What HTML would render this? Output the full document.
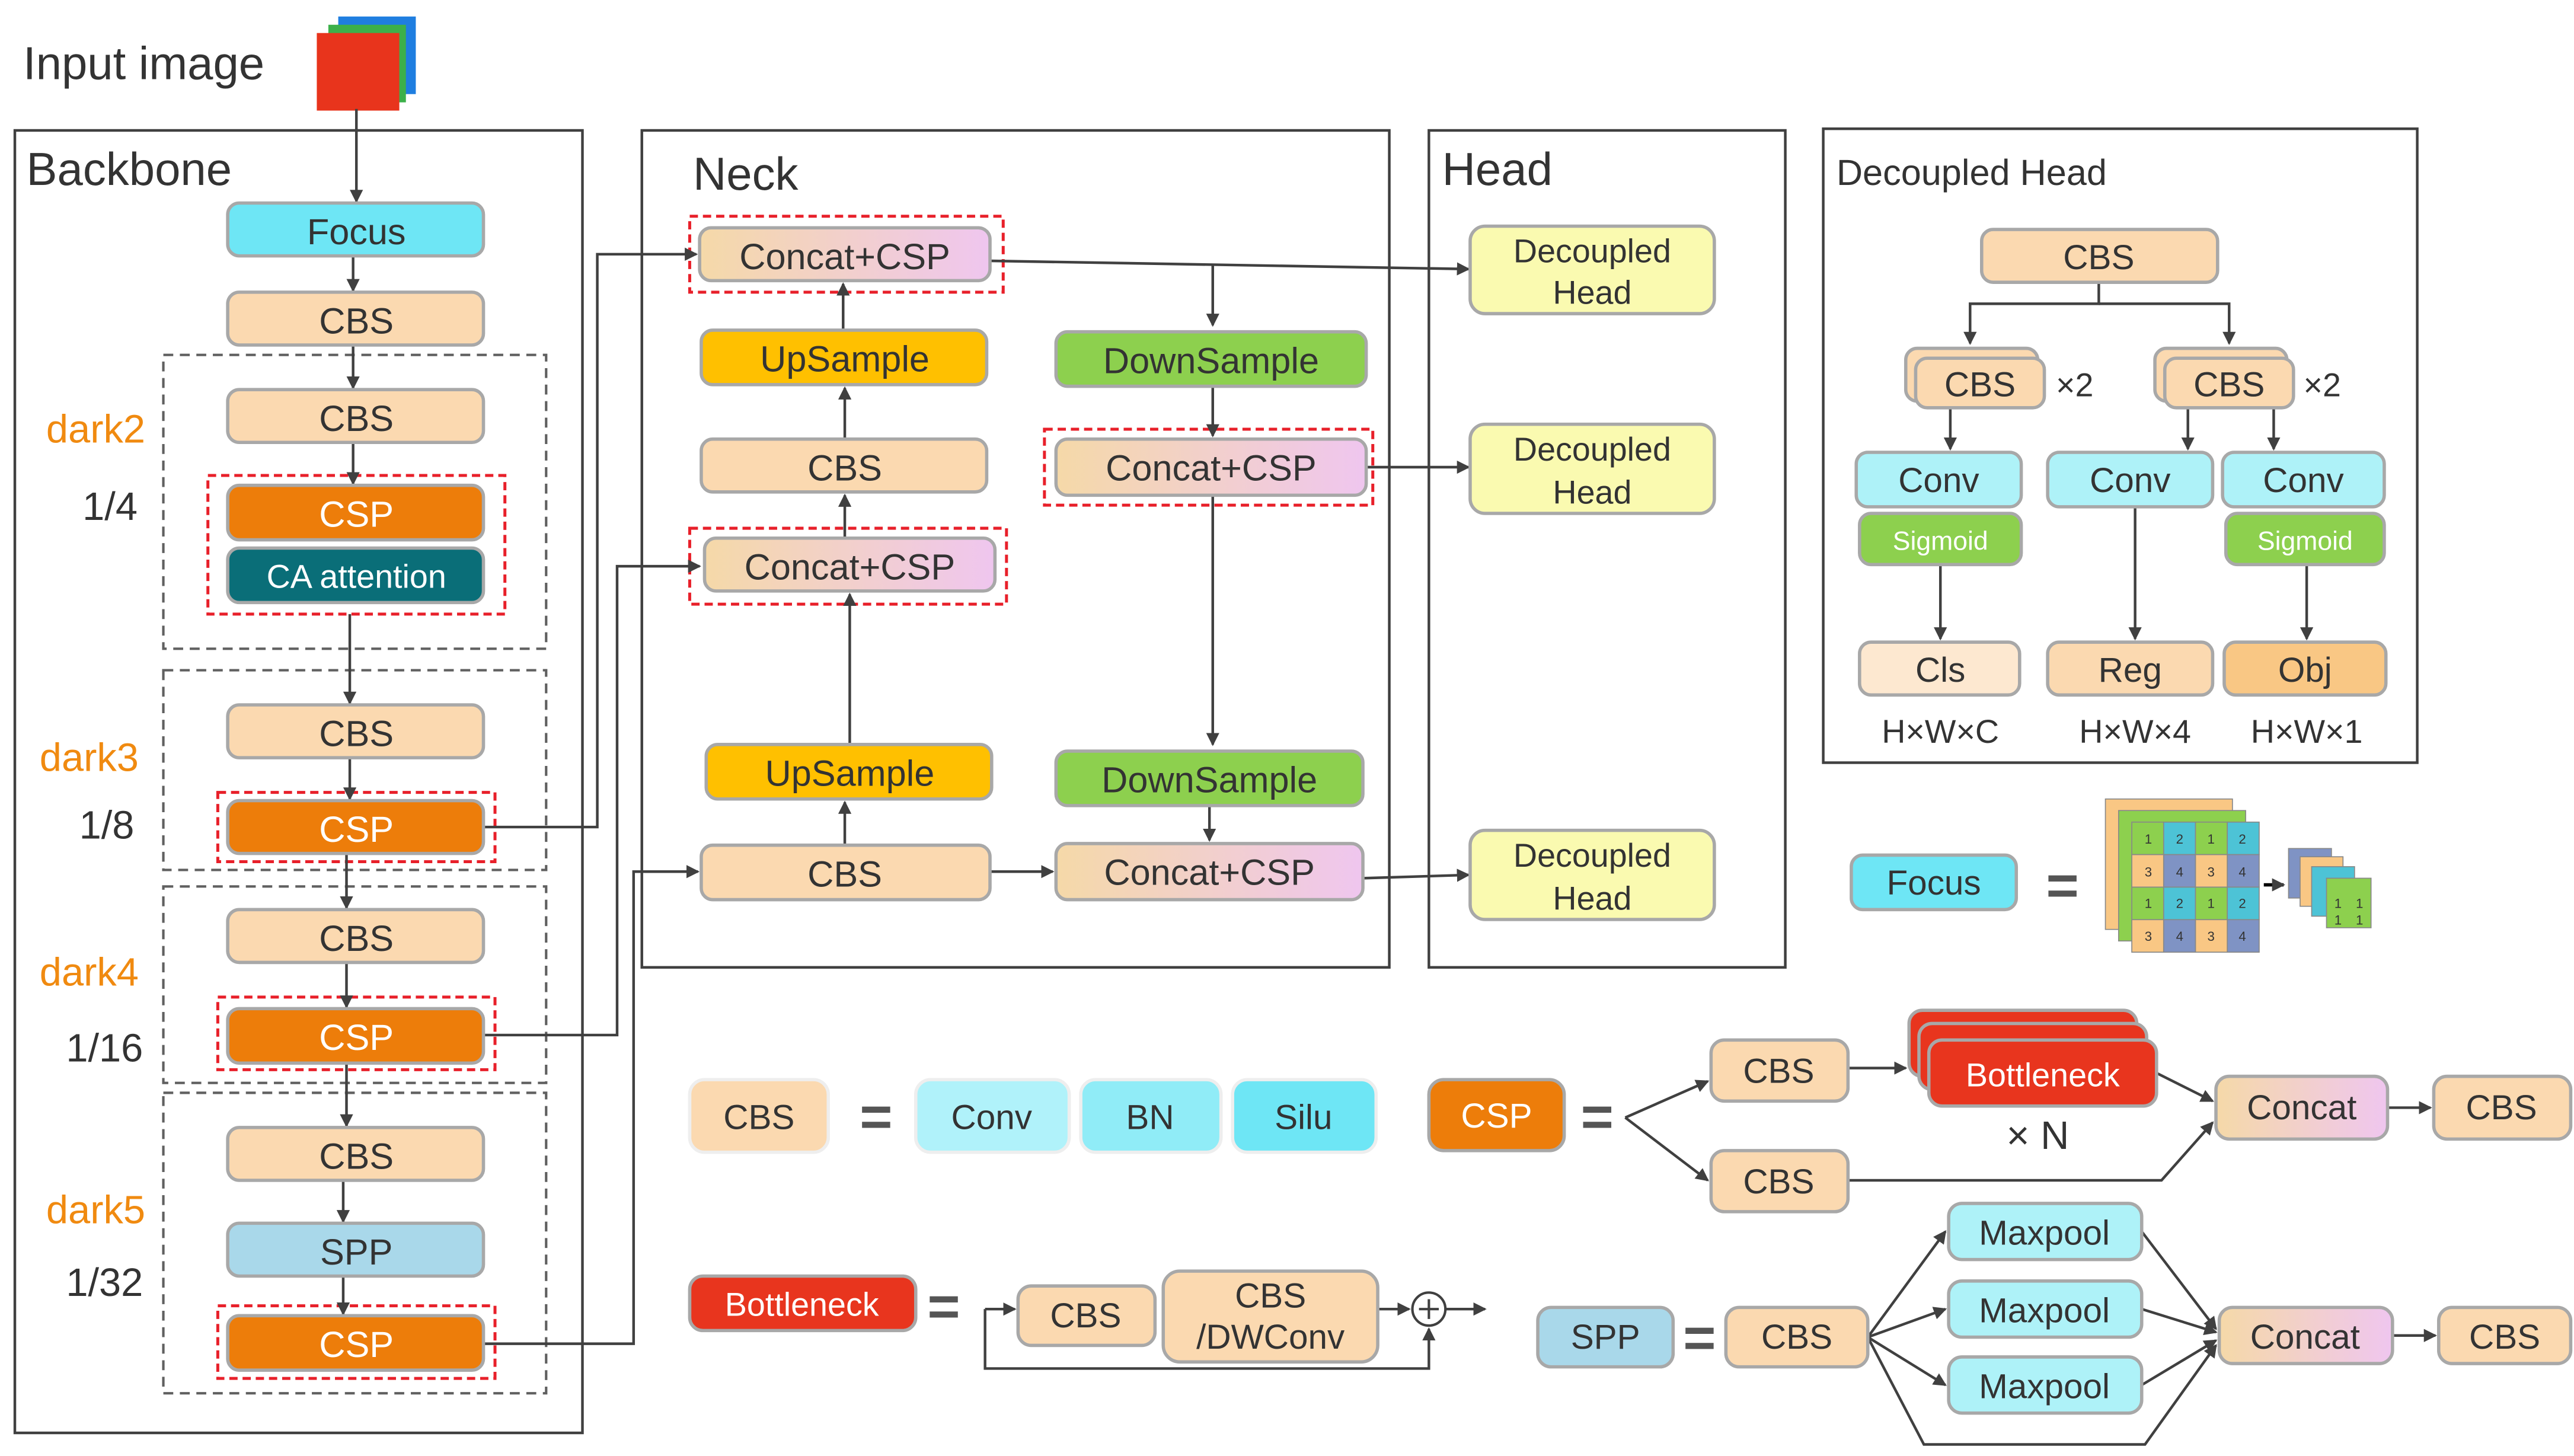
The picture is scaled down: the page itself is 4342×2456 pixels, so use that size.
<!DOCTYPE html>
<html><head><meta charset="utf-8"><style>
html,body{margin:0;padding:0;background:#fff}
svg{display:block}
text{font-family:"Liberation Sans","DejaVu Sans",sans-serif;fill:#333;stroke:none}
</style></head><body>
<svg width="4342" height="2456" viewBox="0 0 1560 882" preserveAspectRatio="none" xmlns="http://www.w3.org/2000/svg">
<defs>
<marker id="a" markerWidth="8" markerHeight="8" refX="7" refY="4" orient="auto" markerUnits="userSpaceOnUse"><path d="M0,0 L8,4 L0,8 z" fill="#404040"/></marker>
<linearGradient id="g" x1="0" x2="1"><stop offset="0" stop-color="#f5d9a8"/><stop offset="1" stop-color="#efc6ef"/></linearGradient>
</defs>
<rect width="1560" height="882" fill="#fff"/>
<g stroke="#404040" stroke-width="1.6" fill="none">
<rect x="9" y="79" width="344" height="789"/>
<rect x="389" y="79" width="453" height="507"/>
<rect x="866" y="79" width="216" height="507"/>
<rect x="1105" y="78" width="360" height="384"/>
</g>
<g stroke="#606060" stroke-width="1.5" fill="none" stroke-dasharray="6,4">
<rect x="99" y="215" width="232" height="178"/>
<rect x="99" y="406" width="232" height="121"/>
<rect x="99" y="537" width="232" height="119"/>
<rect x="99" y="662" width="232" height="182"/>
</g>
<g stroke="#e8202a" stroke-width="1.8" fill="none" stroke-dasharray="5,3">
<rect x="126" y="288" width="180" height="84"/>
<rect x="132" y="480" width="168" height="42"/>
<rect x="132" y="604" width="168" height="44"/>
<rect x="132" y="791" width="168" height="44"/>
<rect x="418" y="131" width="190" height="46"/>
<rect x="418" y="320" width="192" height="46"/>
<rect x="633" y="260" width="199" height="46"/>
</g>
<text x="14" y="48" font-size="28">Input image</text>
<rect x="205" y="10" width="47" height="47" fill="#1f7ee0"/>
<rect x="199" y="15" width="47" height="47" fill="#3cb04a"/>
<rect x="192" y="20" width="50" height="47" fill="#e8341c"/>
<text x="16" y="112" font-size="28">Backbone</text>
<text x="420" y="115" font-size="28">Neck</text>
<text x="874" y="112" font-size="28">Head</text>
<text x="1113" y="112" font-size="22">Decoupled Head</text>
<g font-size="24">
<text x="28" y="268" style="fill:#f08a10">dark2</text>
<text x="24" y="467" style="fill:#f08a10">dark3</text>
<text x="24" y="597" style="fill:#f08a10">dark4</text>
<text x="28" y="741" style="fill:#f08a10">dark5</text>
</g>
<g font-size="24"><text x="50" y="315">1/4</text><text x="48" y="508">1/8</text><text x="40" y="643">1/16</text><text x="40" y="785">1/32</text></g>

<g stroke="#404040" stroke-width="1.6" fill="none" marker-end="url(#a)">
<path d="M216 66V122"/><path d="M214 155V176"/><path d="M214 209V235"/><path d="M214 268V293"/>
<path d="M212 372V426"/><path d="M212 459V484"/><path d="M210 517V550"/><path d="M210 583V610"/>
<path d="M210 644V682"/><path d="M208 715V740"/><path d="M208 773V796"/>
<path d="M293 501H362V154H422"/><path d="M293 627H374V343H424"/><path d="M293 814H384V528H423"/>
<path d="M512 512V486"/><path d="M515 451V360"/><path d="M512 326V300"/><path d="M512 266V235"/><path d="M511 200V172"/>
<path d="M600 158L890 163"/><path d="M735 160V197"/><path d="M735 234V264"/><path d="M828 283H890"/>
<path d="M735 300V451"/><path d="M733 488V509"/><path d="M600 528H638"/><path d="M826 532L890 530"/>
<path d="M1272 171V184H1194V208"/><path d="M1272 184H1351V208"/>
<path d="M1182 247V272"/><path d="M1326 247V272"/><path d="M1378 247V272"/>
<path d="M1176 342V387"/><path d="M1294 307V387"/><path d="M1398 342V387"/>
<path d="M985 677L1035 655"/><path d="M985 677L1035 715"/><path d="M1120 647H1155"/>
<path d="M1307 650L1341 667"/><path d="M1120 715H1310L1341 680"/><path d="M1447 671H1473"/>
<path d="M597 793H615"/><path d="M835 793H854"/><path d="M876 793H900"/><path d="M597 793V829H866V805"/>
<path d="M1132 810L1179 746"/><path d="M1132 810L1179 793"/><path d="M1132 810L1179 839"/>
<path d="M1298 746L1343 805"/><path d="M1298 793L1343 807"/><path d="M1298 839L1343 812"/>
<path d="M1450 809H1476"/>
<path d="M1132 810L1166 875H1300L1343 815"/>
</g>
<circle cx="866" cy="793" r="10" fill="#fff" stroke="#404040" stroke-width="1.5"/>
<path d="M860 793H872M866 787V799" stroke="#404040" stroke-width="1.5"/>

<g stroke="#a8a8a8" stroke-width="2" font-size="22">
<g text-anchor="middle">
<rect x="138" y="123" width="155" height="32" rx="7" fill="#6ee6f5"/><text x="216" y="148">Focus</text>
<rect x="138" y="177" width="155" height="32" rx="7" fill="#fbd9b0"/><text x="216" y="202">CBS</text>
<rect x="138" y="236" width="155" height="32" rx="7" fill="#fbd9b0"/><text x="216" y="261">CBS</text>
<rect x="138" y="294" width="155" height="33" rx="7" fill="#ed7d0a"/><text x="216" y="319" style="fill:#fff">CSP</text>
<rect x="138" y="332" width="155" height="33" rx="7" fill="#0a6e78"/><text x="216" y="356" font-size="20" style="fill:#fff">CA attention</text>
<rect x="138" y="427" width="155" height="32" rx="7" fill="#fbd9b0"/><text x="216" y="452">CBS</text>
<rect x="138" y="485" width="155" height="32" rx="7" fill="#ed7d0a"/><text x="216" y="510" style="fill:#fff">CSP</text>
<rect x="138" y="551" width="155" height="32" rx="7" fill="#fbd9b0"/><text x="216" y="576">CBS</text>
<rect x="138" y="611" width="155" height="33" rx="7" fill="#ed7d0a"/><text x="216" y="636" style="fill:#fff">CSP</text>
<rect x="138" y="683" width="155" height="32" rx="7" fill="#fbd9b0"/><text x="216" y="708">CBS</text>
<rect x="138" y="741" width="155" height="32" rx="7" fill="#a9d8ea"/><text x="216" y="766">SPP</text>
<rect x="138" y="797" width="155" height="33" rx="7" fill="#ed7d0a"/><text x="216" y="822" style="fill:#fff">CSP</text>

<rect x="424" y="138" width="176" height="32" rx="7" fill="url(#g)"/><text x="512" y="163">Concat+CSP</text>
<rect x="425" y="200" width="173" height="33" rx="7" fill="#ffc000"/><text x="512" y="225">UpSample</text>
<rect x="425" y="266" width="173" height="32" rx="7" fill="#fbd9b0"/><text x="512" y="291">CBS</text>
<rect x="427" y="326" width="176" height="32" rx="7" fill="url(#g)"/><text x="515" y="351">Concat+CSP</text>
<rect x="428" y="451" width="173" height="33" rx="7" fill="#ffc000"/><text x="515" y="476">UpSample</text>
<rect x="425" y="512" width="175" height="33" rx="7" fill="#fbd9b0"/><text x="512" y="537">CBS</text>
<rect x="640" y="201" width="188" height="33" rx="7" fill="#8dd04e"/><text x="734" y="226">DownSample</text>
<rect x="640" y="266" width="188" height="34" rx="7" fill="url(#g)"/><text x="734" y="291">Concat+CSP</text>
<rect x="640" y="455" width="186" height="33" rx="7" fill="#8dd04e"/><text x="733" y="480">DownSample</text>
<rect x="640" y="511" width="186" height="34" rx="7" fill="url(#g)"/><text x="733" y="536">Concat+CSP</text>

<rect x="891" y="137" width="148" height="53" rx="9" fill="#fafab0"/><text x="965" y="159" font-size="20">Decoupled</text><text x="965" y="184" font-size="20">Head</text>
<rect x="891" y="257" width="148" height="54" rx="9" fill="#fafab0"/><text x="965" y="279" font-size="20">Decoupled</text><text x="965" y="305" font-size="20">Head</text>
<rect x="891" y="503" width="148" height="54" rx="9" fill="#fafab0"/><text x="965" y="525" font-size="20">Decoupled</text><text x="965" y="551" font-size="20">Head</text>

<rect x="1201" y="139" width="143" height="32" rx="7" fill="#fbd9b0"/><text x="1272" y="163" font-size="21">CBS</text>
<rect x="1155" y="211" width="80" height="32" rx="7" fill="#fbd9b0"/>
<rect x="1161" y="217" width="78" height="30" rx="7" fill="#fbd9b0"/><text x="1200" y="240" font-size="21">CBS</text>
<rect x="1306" y="211" width="80" height="32" rx="7" fill="#fbd9b0"/>
<rect x="1312" y="217" width="78" height="30" rx="7" fill="#fbd9b0"/><text x="1351" y="240" font-size="21">CBS</text>
<rect x="1125" y="274" width="100" height="33" rx="7" fill="#aef2f8"/><text x="1175" y="298" font-size="21">Conv</text>
<rect x="1241" y="274" width="100" height="33" rx="7" fill="#aef2f8"/><text x="1291" y="298" font-size="21">Conv</text>
<rect x="1347" y="274" width="98" height="33" rx="7" fill="#aef2f8"/><text x="1396" y="298" font-size="21">Conv</text>
<rect x="1127" y="311" width="98" height="31" rx="7" fill="#8dd04e"/><text x="1176" y="333" font-size="16" style="fill:#fff">Sigmoid</text>
<rect x="1349" y="311" width="96" height="31" rx="7" fill="#8dd04e"/><text x="1397" y="333" font-size="16" style="fill:#fff">Sigmoid</text>
<rect x="1127" y="389" width="97" height="32" rx="7" fill="#fde8d0"/><text x="1176" y="413" font-size="21">Cls</text>
<rect x="1241" y="389" width="100" height="32" rx="7" fill="#fbd9b0"/><text x="1291" y="413" font-size="21">Reg</text>
<rect x="1348" y="389" width="98" height="32" rx="7" fill="#f9c784"/><text x="1397" y="413" font-size="21">Obj</text>

<rect x="1122" y="518" width="100" height="33" rx="7" fill="#6ee6f5"/><text x="1172" y="542" font-size="21">Focus</text>

<rect x="418" y="654" width="84" height="44" rx="9" fill="#fbd9b0" stroke="#eee"/><text x="460" y="684" font-size="21">CBS</text>
<rect x="555" y="654" width="93" height="44" rx="9" fill="#b0f2fa" stroke="#eee"/><text x="601" y="684" font-size="21">Conv</text>
<rect x="655" y="654" width="85" height="44" rx="9" fill="#90ecf7" stroke="#eee"/><text x="697" y="684" font-size="21">BN</text>
<rect x="747" y="654" width="87" height="44" rx="9" fill="#6ee6f5" stroke="#eee"/><text x="790" y="684" font-size="21">Silu</text>

<rect x="866" y="654" width="82" height="43" rx="9" fill="#ed7d0a"/><text x="907" y="683" font-size="21" style="fill:#fff">CSP</text>
<rect x="1037" y="630" width="83" height="37" rx="8" fill="#fbd9b0"/><text x="1078" y="656" font-size="21">CBS</text>
<rect x="1037" y="697" width="83" height="37" rx="8" fill="#fbd9b0"/><text x="1078" y="723" font-size="21">CBS</text>
<rect x="1157" y="612" width="138" height="40" rx="8" fill="#e8351e"/>
<rect x="1163" y="620" width="138" height="40" rx="8" fill="#e8351e"/>
<rect x="1169" y="630" width="138" height="40" rx="8" fill="#e8351e"/><text x="1238" y="658" font-size="20" style="fill:#fff">Bottleneck</text>
<rect x="1343" y="652" width="104" height="38" rx="8" fill="url(#g)"/><text x="1395" y="678" font-size="21">Concat</text>
<rect x="1475" y="652" width="83" height="38" rx="8" fill="#fbd9b0"/><text x="1516" y="678" font-size="21">CBS</text>

<rect x="418" y="773" width="137" height="33" rx="8" fill="#e8351e"/><text x="486" y="797" font-size="20" style="fill:#fff">Bottleneck</text>
<rect x="617" y="779" width="83" height="36" rx="8" fill="#fbd9b0"/><text x="658" y="804" font-size="21">CBS</text>
<rect x="705" y="770" width="130" height="55" rx="10" fill="#fbd9b0"/><text x="770" y="792" font-size="21">CBS</text><text x="770" y="817" font-size="21">/DWConv</text>

<rect x="932" y="792" width="82" height="36" rx="8" fill="#a9d8ea"/><text x="973" y="817" font-size="21">SPP</text>
<rect x="1046" y="792" width="86" height="36" rx="8" fill="#fbd9b0"/><text x="1089" y="817" font-size="21">CBS</text>
<rect x="1181" y="729" width="117" height="34" rx="8" fill="#aef2f8"/><text x="1239" y="754" font-size="21">Maxpool</text>
<rect x="1181" y="776" width="117" height="34" rx="8" fill="#aef2f8"/><text x="1239" y="801" font-size="21">Maxpool</text>
<rect x="1181" y="822" width="117" height="34" rx="8" fill="#aef2f8"/><text x="1239" y="847" font-size="21">Maxpool</text>
<rect x="1345" y="792" width="105" height="34" rx="8" fill="url(#g)"/><text x="1397" y="817" font-size="21">Concat</text>
<rect x="1478" y="792" width="80" height="34" rx="8" fill="#fbd9b0"/><text x="1518" y="817" font-size="21">CBS</text>
</g>
</g>
<g font-size="20"><text x="1246" y="240">×2</text><text x="1396" y="240">×2</text>
<text x="1176" y="450" text-anchor="middle">H×W×C</text><text x="1294" y="450" text-anchor="middle">H×W×4</text><text x="1398" y="450" text-anchor="middle">H×W×1</text>
<text x="1216" y="696" font-size="24">× N</text></g>
<g font-size="34" font-weight="bold" text-anchor="middle">
<text x="531" y="688" style="fill:#555">=</text><text x="968" y="688" style="fill:#555">=</text>
<text x="572" y="803" style="fill:#555">=</text><text x="1030" y="822" style="fill:#555">=</text><text x="1250" y="548" style="fill:#555">=</text>
</g>
<g stroke="#888" stroke-width="0.6">
<rect x="1276" y="484" width="77" height="79" fill="#f9c784"/>
<rect x="1284" y="491" width="77" height="79" fill="#8dd04e"/>
<g>
<rect x="1292" y="498" width="19.3" height="19.7" fill="#8dd04e"/><rect x="1311.3" y="498" width="19.3" height="19.7" fill="#4dc3d6"/><rect x="1330.6" y="498" width="19.3" height="19.7" fill="#8dd04e"/><rect x="1349.9" y="498" width="19.3" height="19.7" fill="#4dc3d6"/>
<rect x="1292" y="517.7" width="19.3" height="19.7" fill="#f9c784"/><rect x="1311.3" y="517.7" width="19.3" height="19.7" fill="#7f93c4"/><rect x="1330.6" y="517.7" width="19.3" height="19.7" fill="#f9c784"/><rect x="1349.9" y="517.7" width="19.3" height="19.7" fill="#7f93c4"/>
<rect x="1292" y="537.4" width="19.3" height="19.7" fill="#8dd04e"/><rect x="1311.3" y="537.4" width="19.3" height="19.7" fill="#4dc3d6"/><rect x="1330.6" y="537.4" width="19.3" height="19.7" fill="#8dd04e"/><rect x="1349.9" y="537.4" width="19.3" height="19.7" fill="#4dc3d6"/>
<rect x="1292" y="557.1" width="19.3" height="19.7" fill="#f9c784"/><rect x="1311.3" y="557.1" width="19.3" height="19.7" fill="#7f93c4"/><rect x="1330.6" y="557.1" width="19.3" height="19.7" fill="#f9c784"/><rect x="1349.9" y="557.1" width="19.3" height="19.7" fill="#7f93c4"/>
</g>
<rect x="1387" y="514" width="26" height="30" fill="#7f93c4"/>
<rect x="1394" y="519" width="26" height="30" fill="#f9c784"/>
<rect x="1401" y="525" width="26" height="30" fill="#4dc3d6"/>
<rect x="1410" y="532" width="27" height="30" fill="#8dd04e"/>
</g>
<g font-size="8" text-anchor="middle"><text x="1302" y="511">1</text><text x="1321" y="511">2</text><text x="1340" y="511">1</text><text x="1359" y="511">2</text>
<text x="1302" y="531">3</text><text x="1321" y="531">4</text><text x="1340" y="531">3</text><text x="1359" y="531">4</text>
<text x="1302" y="550">1</text><text x="1321" y="550">2</text><text x="1340" y="550">1</text><text x="1359" y="550">2</text>
<text x="1302" y="570">3</text><text x="1321" y="570">4</text><text x="1340" y="570">3</text><text x="1359" y="570">4</text>
<text x="1417" y="550">1</text><text x="1430" y="550">1</text><text x="1417" y="560">1</text><text x="1430" y="560">1</text></g>
<path d="M1372 536H1384" stroke="#000" stroke-width="2" marker-end="url(#a)"/>
</svg>
</body></html>
